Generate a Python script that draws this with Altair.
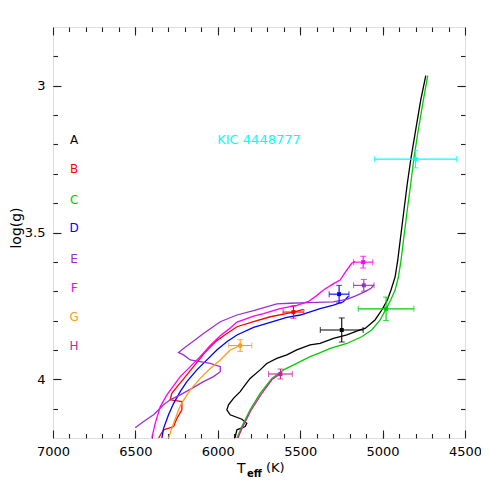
import altair as alt
import pandas as pd

W, H = 412, 411
FONT = "DejaVu Sans"

track_names = ["A", "B", "C", "D", "E", "F", "G", "H"]
track_colors = ["#000000", "#FF0000", "#00CC00", "#0000FF", "#9B30D0", "#FF00FF", "#FF9A1F", "#CC2299"]

A_teff = [5896, 5884, 5834, 5824, 5854, 5925, 5945, 5935, 5905, 5864, 5834, 5804, 5743, 5703, 5642, 5581, 5521, 5440,
          5379, 5298, 5217, 5137, 5106, 5046, 5005, 4971, 4949, 4924, 4908, 4888, 4868, 4850, 4829, 4803, 4769, 4738]
A_logg = [4.200, 4.172, 4.161, 4.150, 4.136, 4.121, 4.104, 4.087, 4.065, 4.042, 4.019, 3.997, 3.968, 3.946, 3.929,
          3.917, 3.900, 3.883, 3.878, 3.861, 3.849, 3.832, 3.827, 3.798, 3.764, 3.730, 3.696, 3.651, 3.594, 3.503,
          3.413, 3.333, 3.251, 3.163, 3.050, 2.966]

B_teff = [6359, 6329, 6268, 6248, 6218, 6218, 6289, 6279, 6238, 6188, 6130, 6080, 6010, 5960, 5884, 5783, 5682, 5601,
          5541, 5480]
B_logg = [4.200, 4.172, 4.161, 4.133, 4.104, 4.076, 4.070, 4.048, 4.019, 3.985, 3.945, 3.910, 3.870, 3.850, 3.821,
          3.804, 3.787, 3.778, 3.771, 3.762]

C_teff = [5884, 5854, 5804, 5743, 5672, 5601, 5521, 5440, 5389, 5318, 5217, 5127, 5066, 5015, 4979, 4951, 4924, 4904,
          4888, 4868, 4848, 4829, 4811, 4787, 4753, 4726]
C_logg = [4.200, 4.161, 4.104, 4.048, 3.997, 3.968, 3.946, 3.923, 3.912, 3.895, 3.878, 3.855, 3.832, 3.798, 3.760,
          3.730, 3.696, 3.651, 3.594, 3.503, 3.413, 3.333, 3.251, 3.163, 3.050, 2.966]

D_teff = [6339, 6329, 6299, 6268, 6228, 6188, 6127, 6066, 6006, 5945, 5884, 5783, 5682, 5581, 5500, 5379, 5298, 5238,
          5207]
D_logg = [4.200, 4.167, 4.121, 4.082, 4.042, 4.008, 3.968, 3.934, 3.900, 3.872, 3.849, 3.823, 3.806, 3.789, 3.781,
          3.759, 3.747, 3.736, 3.717]

E_teff = [6501, 6450, 6390, 6329, 6289, 6228, 6157, 6087, 6026, 5985, 5985, 6046, 6107, 6167, 6208, 6238, 6208, 6167,
          6087, 5985, 5884, 5783, 5642, 5561, 5450, 5300, 5217, 5160, 5110, 5070, 5052]
E_logg = [4.165, 4.144, 4.121, 4.087, 4.070, 4.053, 4.031, 4.008, 3.991, 3.974, 3.957, 3.946, 3.940, 3.934, 3.917,
          3.909, 3.895, 3.878, 3.844, 3.804, 3.781, 3.766, 3.743, 3.741, 3.739, 3.736, 3.728, 3.715, 3.702, 3.690,
          3.678]

F_teff = [6400, 6380, 6349, 6309, 6228, 6167, 6107, 6046, 5985, 5935, 5884, 5783, 5723, 5622, 5520, 5450, 5400, 5359,
          5300, 5258, 5220, 5187, 5170]
F_logg = [4.200, 4.150, 4.093, 4.053, 3.991, 3.957, 3.923, 3.885, 3.852, 3.830, 3.805, 3.785, 3.776, 3.759, 3.748,
          3.735, 3.715, 3.696, 3.675, 3.662, 3.630, 3.605, 3.598]

G_teff = [6299, 6268, 6238, 6218, 6167, 6107, 6046, 5985, 5925, 5864]
G_logg = [4.200, 4.150, 4.104, 4.080, 4.036, 3.997, 3.963, 3.934, 3.900, 3.885]

H_teff = [5878, 5850, 5800, 5738, 5670, 5620]
H_logg = [4.200, 4.163, 4.107, 4.052, 4.000, 3.982]

# observed stars with error bars
eb_names = ["A", "B", "C", "D", "E", "F", "G", "H", "KIC"]
eb_teff = [5248, 5541, 4979, 5264, 5114, 5118, 5864, 5620, 4800]
eb_logg = [3.832, 3.771, 3.760, 3.710, 3.680, 3.601, 3.885, 3.982, 3.250]
eb_dteff = [130, 63, 169, 60, 62, 58, 70, 72, 249]
eb_dlogg = [0.041, 0.021, 0.040, 0.030, 0.020, 0.020, 0.020, 0.017, 0.030]
eb_colors = track_colors + ["#00FFFF"]

# labels
label_teff = 6872
label_logg = [3.186, 3.285, 3.388, 3.485, 3.591, 3.688, 3.788, 3.887]
kic_text = "KIC 4448777"
kic_teff = 5750
kic_logg = 3.186

x_major = [7000, 6500, 6000, 5500, 5000, 4500]
x_minor = list(range(6900, 4500, -100))
y_major = [3.0, 3.5, 4.0]
y_minor = [round(2.9 + 0.1 * i, 1) for i in range(13)]

tracks = {"A": (A_teff, A_logg), "B": (B_teff, B_logg), "C": (C_teff, C_logg), "D": (D_teff, D_logg),
          "E": (E_teff, E_logg), "F": (F_teff, F_logg), "G": (G_teff, G_logg), "H": (H_teff, H_logg)}

xscale = alt.Scale(domain=[4500, 7000], reverse=True, nice=False, zero=False)
yscale = alt.Scale(domain=[2.8, 4.2], reverse=True, nice=False, zero=False)


def X(field):
    return alt.X(field, scale=xscale, axis=None)


def Y(field):
    return alt.Y(field, scale=yscale, axis=None)


layers = []

for name, color in zip(track_names, track_colors):
    teff, logg = tracks[name]
    d = pd.DataFrame({"teff": teff, "logg": logg, "i": list(range(len(teff)))})
    layers.append(
        alt.Chart(d).mark_line(color=color, strokeWidth=1.3, clip=True).encode(
            x=X("teff:Q"), y=Y("logg:Q"), order="i:Q"
        )
    )

eb = pd.DataFrame({"name": eb_names, "teff": eb_teff, "logg": eb_logg,
                   "dteff": eb_dteff, "dlogg": eb_dlogg, "col": eb_colors})
eb["t_lo"] = eb["teff"] - eb["dteff"]
eb["t_hi"] = eb["teff"] + eb["dteff"]
eb["g_lo"] = eb["logg"] - eb["dlogg"]
eb["g_hi"] = eb["logg"] + eb["dlogg"]
col = alt.Color("col:N", scale=None)

base = alt.Chart(eb)
layers += [
    base.mark_rule(strokeWidth=1.1).encode(x=X("t_lo:Q"), x2="t_hi:Q", y=Y("logg:Q"), color=col),
    base.mark_rule(strokeWidth=1.1).encode(x=X("teff:Q"), y=Y("g_lo:Q"), y2="g_hi:Q", color=col),
    base.mark_tick(orient="vertical", size=6, thickness=1.1).encode(x=X("t_lo:Q"), y=Y("logg:Q"), color=col),
    base.mark_tick(orient="vertical", size=6, thickness=1.1).encode(x=X("t_hi:Q"), y=Y("logg:Q"), color=col),
    base.mark_tick(orient="horizontal", size=6, thickness=1.1).encode(x=X("teff:Q"), y=Y("g_lo:Q"), color=col),
    base.mark_tick(orient="horizontal", size=6, thickness=1.1).encode(x=X("teff:Q"), y=Y("g_hi:Q"), color=col),
    base.mark_square(size=16, opacity=1).encode(x=X("teff:Q"), y=Y("logg:Q"), color=col),
]

lab = pd.DataFrame({"name": track_names, "teff": [label_teff] * 8, "logg": label_logg, "col": track_colors})
layers.append(
    alt.Chart(lab).mark_text(font=FONT, fontSize=12, align="center", baseline="middle").encode(
        x=X("teff:Q"), y=Y("logg:Q"), text="name:N", color=col)
)
kic = pd.DataFrame({"t": [kic_text], "teff": [kic_teff], "logg": [kic_logg]})
layers.append(
    alt.Chart(kic).mark_text(font=FONT, fontSize=13, align="center", baseline="middle", color="#00FFFF").encode(
        x=X("teff:Q"), y=Y("logg:Q"), text="t:N")
)

# axis titles
layers.append(alt.Chart(pd.DataFrame({"t": ["log(g)"]})).mark_text(
    font=FONT, fontSize=14, angle=270, align="center", baseline="middle", color="black").encode(
    x=alt.value(-36), y=alt.value(201), text="t:N"))
layers.append(alt.Chart(pd.DataFrame({"t": ["T"]})).mark_text(
    font=FONT, fontSize=14, align="left", baseline="alphabetic", color="black").encode(
    x=alt.value(184), y=alt.value(446), text="t:N"))
layers.append(alt.Chart(pd.DataFrame({"t": ["eff"]})).mark_text(
    font=FONT, fontSize=10, fontWeight="bold", align="left", baseline="alphabetic", color="black").encode(
    x=alt.value(194), y=alt.value(450), text="t:N"))
layers.append(alt.Chart(pd.DataFrame({"t": ["(K)"]})).mark_text(
    font=FONT, fontSize=13, align="left", baseline="alphabetic", color="black").encode(
    x=alt.value(213), y=alt.value(445), text="t:N"))

# axes (labels + inward ticks on all four sides)
anchor = pd.DataFrame({"teff": [5000], "logg": [3.5]})


def axis_layer(xaxis, yaxis):
    return alt.Chart(anchor).mark_point(opacity=0).encode(
        x=alt.X("teff:Q", scale=xscale, axis=xaxis),
        y=alt.Y("logg:Q", scale=yscale, axis=yaxis))


def tick_axis(orient, values, size):
    off = -H if orient in ("top", "bottom") else -W
    return alt.Axis(orient=orient, offset=off, values=values, ticks=True, tickSize=size,
                    tickColor="#222222", tickWidth=1.1, labels=False, domain=False, grid=False, title=None)


label_x = alt.Axis(orient="bottom", values=x_major, format="d", ticks=False, domain=False, grid=False,
                   labelFont=FONT, labelFontSize=13, labelColor="black", labelPadding=7,
                   labelFlush=False, labelOverlap=False, title=None)
label_y = alt.Axis(orient="left", values=y_major, format="~g", ticks=False, domain=False, grid=False,
                   labelFont=FONT, labelFontSize=13, labelColor="black", labelPadding=8,
                   labelOverlap=False, title=None)

layers += [
    axis_layer(label_x, label_y),
    axis_layer(tick_axis("top", x_major, 8), tick_axis("right", y_major, 8)),
    axis_layer(tick_axis("top", x_minor, 4.5), tick_axis("right", y_minor, 4.5)),
    axis_layer(tick_axis("bottom", x_major, 8), tick_axis("left", y_major, 8)),
    axis_layer(tick_axis("bottom", x_minor, 4.5), tick_axis("left", y_minor, 4.5)),
]

chart = alt.layer(*layers).resolve_axis(x="independent", y="independent").properties(
    width=W, height=H,
    autosize=alt.AutoSizeParams(type="none"),
    padding={"left": 45, "top": 19, "right": 16, "bottom": 40},
).configure_view(stroke="#222222", strokeWidth=1.3).configure(background="white")

chart.save("out.html", embed_options={"renderer": "svg", "actions": False})
